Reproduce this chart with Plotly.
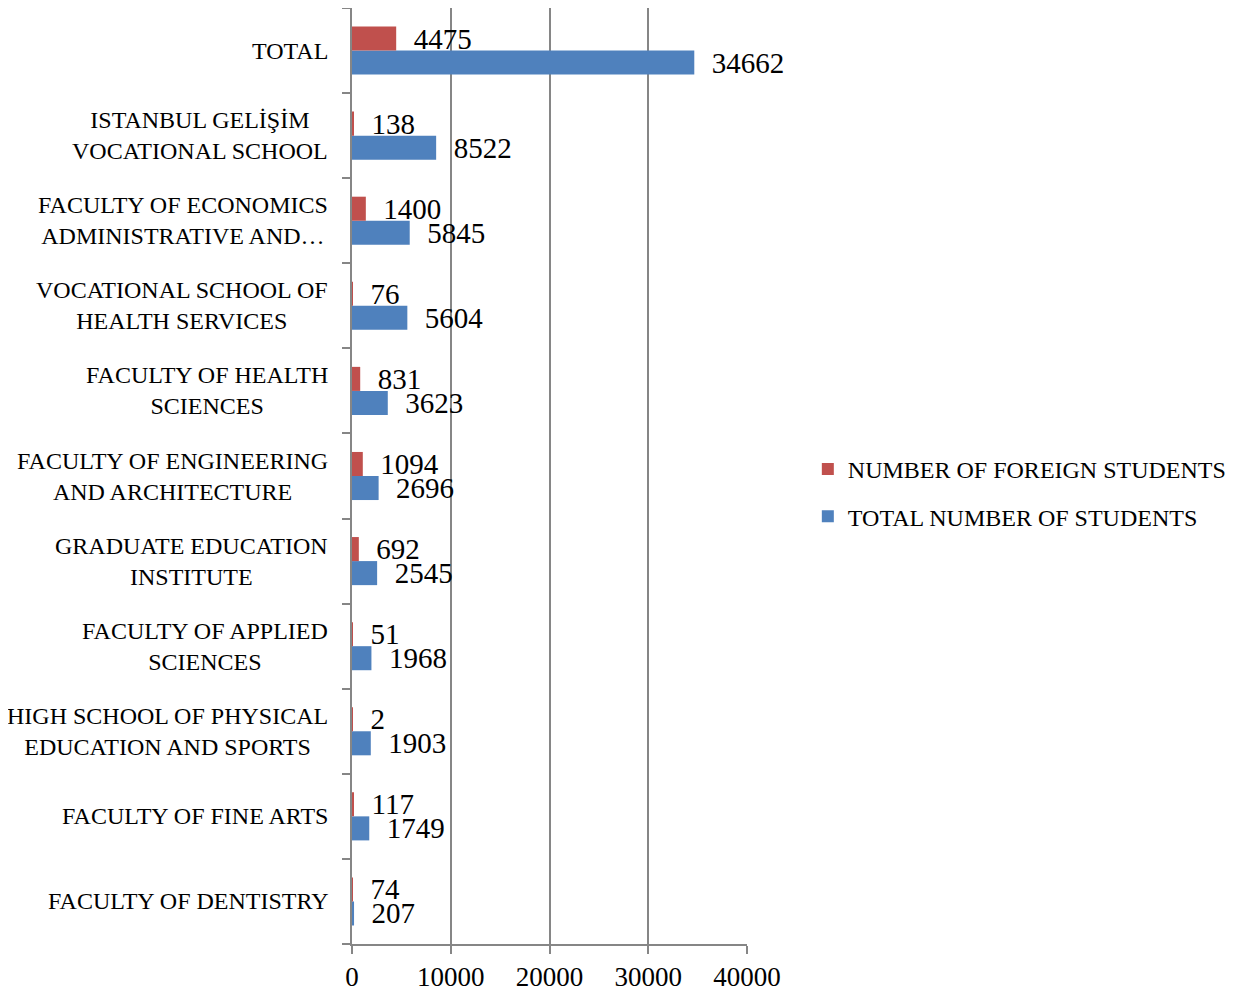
import plotly.graph_objects as go

categories = [
    "FACULTY OF DENTISTRY",
    "FACULTY OF FINE ARTS",
    "HIGH SCHOOL OF PHYSICAL<br>EDUCATION AND SPORTS",
    "FACULTY OF APPLIED<br>SCIENCES",
    "GRADUATE EDUCATION<br>INSTITUTE",
    "FACULTY OF ENGINEERING<br>AND ARCHITECTURE",
    "FACULTY OF HEALTH<br>SCIENCES",
    "VOCATIONAL SCHOOL OF<br>HEALTH SERVICES",
    "FACULTY OF ECONOMICS<br>ADMINISTRATIVE AND…",
    "ISTANBUL GELİŞİM<br>VOCATIONAL SCHOOL",
    "TOTAL",
]
foreign_students = [74, 117, 2, 51, 692, 1094, 831, 76, 1400, 138, 4475]
total_students = [207, 1749, 1903, 1968, 2545, 2696, 3623, 5604, 5845, 8522, 34662]
x_ticks = [0, 10000, 20000, 30000, 40000]

FONT = "Liberation Serif"
RED = "#C0504D"
BLUE = "#4F81BD"
GRID = "#868686"

fig = go.Figure()
fig.add_trace(go.Bar(
    y=categories, x=total_students, orientation="h",
    name="TOTAL NUMBER OF STUDENTS", marker=dict(color=BLUE, line=dict(width=0)),
    text=[str(v) for v in total_students], texttemplate="\u2002%{text}",
    textposition="outside", constraintext="none", cliponaxis=False,
    textfont=dict(family=FONT, size=29, color="black"),
    legendgroup="b", legendrank=2,
))
fig.add_trace(go.Bar(
    y=categories, x=foreign_students, orientation="h",
    name="NUMBER OF FOREIGN STUDENTS", marker=dict(color=RED, line=dict(width=0)),
    text=[str(v) for v in foreign_students], texttemplate="\u2002%{text}",
    textposition="outside", constraintext="none", cliponaxis=False,
    textfont=dict(family=FONT, size=29, color="black"),
    legendgroup="a", legendrank=1,
))

for c in categories:
    fig.add_annotation(
        x=0, xref="paper", y=c, yref="y", text=c, showarrow=False,
        xanchor="right", xshift=-22, align="center",
        font=dict(family=FONT, size=24, color="black"),
    )

fig.update_layout(
    width=1230, height=986,
    margin=dict(l=344, r=491, t=0, b=50, autoexpand=False),
    paper_bgcolor="white", plot_bgcolor="white",
    barmode="group", bargap=0.435, bargroupgap=0,
    font=dict(family=FONT, size=24, color="black"),
    showlegend=True,
    legend=dict(
        x=1.154, y=0.482, xanchor="left", yanchor="middle",
        traceorder="grouped", tracegroupgap=13,
        font=dict(family=FONT, size=24, color="black"),
        bgcolor="rgba(0,0,0,0)",
    ),
    xaxis=dict(
        range=[0, 40000], tickvals=x_ticks, ticktext=[str(t) for t in x_ticks],
        showgrid=True, gridcolor=GRID, gridwidth=2,
        showline=True, linecolor=GRID, linewidth=2,
        ticks="outside", ticklen=8, tickcolor=GRID, tickwidth=2,
        tickfont=dict(family=FONT, size=27, color="black"),
        zeroline=False, fixedrange=True,
    ),
    yaxis=dict(
        type="category", showticklabels=False,
        showline=True, linecolor=GRID, linewidth=2,
        ticks="outside", tickson="boundaries", ticklen=8, tickcolor=GRID, tickwidth=2,
        showgrid=False, zeroline=False,
    ),
)

fig.write_html("out.html")
